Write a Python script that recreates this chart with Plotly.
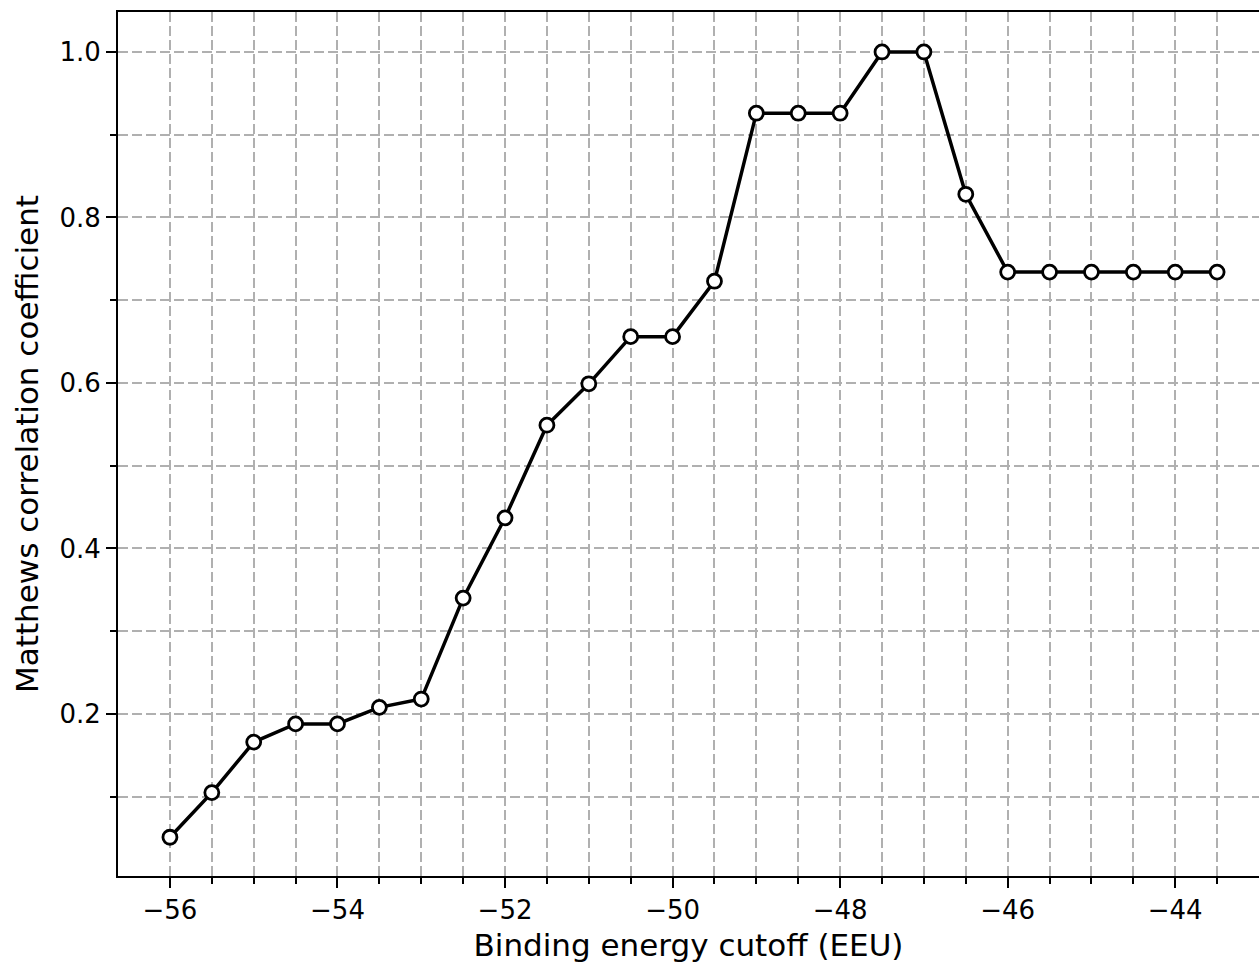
import plotly.graph_objects as go

cutoff = [-56.0, -55.5, -55.0, -54.5, -54.0, -53.5, -53.0, -52.5, -52.0, -51.5,
          -51.0, -50.5, -50.0, -49.5, -49.0, -48.5, -48.0, -47.5, -47.0, -46.5,
          -46.0, -45.5, -45.0, -44.5, -44.0, -43.5]
mcc = [0.051, 0.105, 0.166, 0.188, 0.188, 0.208, 0.218, 0.340, 0.437, 0.549,
       0.599, 0.656, 0.656, 0.723, 0.926, 0.926, 0.926, 1.0, 1.0, 0.828,
       0.734, 0.734, 0.734, 0.734, 0.734, 0.734]

x_major_ticks = [-56, -54, -52, -50, -48, -46, -44]
y_major_ticks = [0.2, 0.4, 0.6, 0.8, 1.0]
y_minor_ticks = [0.1, 0.3, 0.5, 0.7, 0.9]

x_title = "Binding energy cutoff (EEU)"
y_title = "Matthews correlation coefficient"

fig = go.Figure()
fig.add_trace(go.Scatter(
    x=cutoff, y=mcc, mode="lines+markers",
    line=dict(color="black", width=3.5),
    marker=dict(size=14, color="white", line=dict(color="black", width=2.8)),
    showlegend=False,
))

grid_color = "#b0b0b0"
font = "DejaVu Sans"
dash = "10px,4px"

fig.update_layout(
    width=1259, height=966,
    margin=dict(l=118, r=0, t=12, b=90),
    plot_bgcolor="white", paper_bgcolor="white",
    font=dict(family=font, color="black", size=26),
    xaxis=dict(
        range=[-56.62, -43.0], tickmode="array", tickvals=x_major_ticks,
        automargin=False,
        showline=True, linecolor="black", linewidth=2, mirror=True,
        ticks="outside", ticklen=10, tickwidth=2, tickcolor="black",
        showgrid=True, gridcolor=grid_color, gridwidth=2, griddash=dash,
        zeroline=False,
        tickfont=dict(size=26),
        title=dict(text=x_title, font=dict(size=31), standoff=10),
        minor=dict(tickmode="array", tickvals=cutoff, ticks="outside", ticklen=6,
                   tickwidth=2, tickcolor="black", showgrid=True,
                   gridcolor=grid_color, gridwidth=2, griddash=dash),
    ),
    yaxis=dict(
        range=[0.0042, 1.0483], tickmode="array", tickvals=y_major_ticks,
        tickformat=".1f", automargin=False,
        showline=True, linecolor="black", linewidth=2, mirror=False,
        ticks="outside", ticklen=10, tickwidth=2, tickcolor="black",
        showgrid=True, gridcolor=grid_color, gridwidth=2, griddash=dash,
        zeroline=False,
        tickfont=dict(size=26),
        title=dict(text=y_title, font=dict(size=31), standoff=12),
        minor=dict(tickmode="array", tickvals=y_minor_ticks, ticks="outside",
                   ticklen=6, tickwidth=2, tickcolor="black", showgrid=True,
                   gridcolor=grid_color, gridwidth=2, griddash=dash),
    ),
)

fig.write_html(
    "out.html",
    config={"displayModeBar": False},
    post_script="document.body.style.margin='0';document.body.style.overflow='hidden';",
)
